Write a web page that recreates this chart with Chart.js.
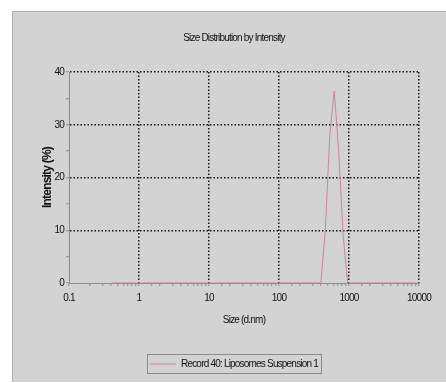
<!DOCTYPE html>
<html>
<head>
<meta charset="utf-8">
<script src="https://cdn.jsdelivr.net/npm/chart.js@4.4.0/dist/chart.umd.min.js"></script>
<style>
  html, body { margin: 0; padding: 0; background: #fff; }
  #wrap { width: 446px; height: 383px; }
</style>
</head>
<body>
<div id="wrap"><canvas id="myChart" width="446" height="383"></canvas></div>
<script>
// size bins (d.nm) and intensity (%)
const sizes = [0.4, 0.4632, 0.5365, 0.6213, 0.7195, 0.8332, 0.9649, 1.117, 1.294, 1.499,
  1.736, 2.010, 2.328, 2.696, 3.122, 3.615, 4.187, 4.849, 5.615, 6.503,
  7.531, 8.721, 10.10, 11.70, 13.54, 15.69, 18.17, 21.04, 24.36, 28.21,
  32.67, 37.84, 43.82, 50.75, 58.77, 68.06, 78.82, 91.28, 105.7, 122.4,
  141.8, 164.2, 190.1, 220.2, 255.0, 295.3, 342.0, 396.1, 458.7, 531.2,
  615.1, 712.4, 825.0, 955.4, 1106, 1281, 1484, 1718, 1990, 2305,
  2669, 3091, 3580, 4145, 4801, 5560, 6439, 7456, 8635, 10000];
const intensity = [0, 0, 0, 0, 0, 0, 0, 0, 0, 0,
  0, 0, 0, 0, 0, 0, 0, 0, 0, 0,
  0, 0, 0, 0, 0, 0, 0, 0, 0, 0,
  0, 0, 0, 0, 0, 0, 0, 0, 0, 0,
  0, 0, 0, 0, 0, 0, 0, 0, 10, 28,
  36.4, 25, 9, 0, 0, 0, 0, 0, 0, 0,
  0, 0, 0, 0, 0, 0, 0, 0, 0, 0];
const xTickLabels = [0.1, 1, 10, 100, 1000, 10000];
const yTickLabels = [0, 10, 20, 30, 40];
const seriesName = 'Record 40: Liposomes Suspension 1';

const font = { family: "'Liberation Sans', Arial, sans-serif", size: 10, weight: 'normal' };
const TEXT = '#111';
const LINE = '#c9869f';

// the original uses a narrow face; squeeze the letters a bit instead
const squeeze = c => { if ('letterSpacing' in c) c.letterSpacing = '-0.8px'; };

const panel = {
  id: 'panel',
  beforeUpdate(chart) { squeeze(chart.ctx); },
  beforeDraw(chart) {
    const c = chart.ctx;
    squeeze(c);
    c.save();
    c.fillStyle = '#ffffff';
    c.fillRect(0, 0, chart.width, chart.height);
    c.fillStyle = '#d3d3d3';
    c.fillRect(12, 11, chart.width - 12, chart.height - 12);
    c.strokeStyle = '#b0b0b0';
    c.lineWidth = 1;
    c.beginPath();
    c.moveTo(12.5, chart.height - 1);
    c.lineTo(12.5, 11.5);
    c.lineTo(chart.width, 11.5);
    c.stroke();
    c.restore();
  },
  afterDraw(chart) {
    const hb = chart.legend.legendHitBoxes[0];
    if (!hb) return;
    const c = chart.ctx;
    c.save();
    c.strokeStyle = '#8a8a8a';
    c.lineWidth = 1;
    c.strokeRect(Math.round(hb.left) - 2.5, 354.5, Math.round(hb.width) + 6, 19);
    c.restore();
  }
};

const ctx = document.getElementById('myChart').getContext('2d');
const myChart = new Chart(ctx, {
  type: 'line',
  data: {
    datasets: [{
      label: seriesName,
      data: sizes.map((s, i) => ({x: s, y: intensity[i]})),
      borderColor: LINE,
      backgroundColor: LINE,
      borderWidth: 1,
      pointRadius: 0,
      tension: 0
    }]
  },
  options: {
    responsive: false,
    animation: false,
    layout: { padding: { left: 22, right: 0, top: 0, bottom: 4 } },
    scales: {
      x: {
        type: 'logarithmic',
        min: 0.1,
        max: 10000,
        afterFit(scale) { scale.height = 68; },
        grid: {
          color: c => (c.tick && xTickLabels.includes(c.tick.value) && c.tick.value !== 0.1) ? '#111' : 'rgba(0,0,0,0)',
          lineWidth: 1.5,
          tickColor: '#8c8c8c',
          tickLength: 3,
          tickWidth: 1
        },
        border: { display: true, color: '#8c8c8c', width: 1, dash: [1.5, 2] },
        ticks: {
          autoSkip: false,
          maxRotation: 0,
          padding: 6,
          color: TEXT,
          font: font,
          callback: v => xTickLabels.includes(v) ? String(v) : ''
        },
        title: {
          display: true,
          text: 'Size (d.nm)',
          color: TEXT,
          font: font,
          padding: { top: 0, bottom: 25 }
        }
      },
      y: {
        min: 0,
        max: 40,
        afterFit(scale) { scale.width = 47; },
        grid: {
          color: c => (c.tick && yTickLabels.includes(c.tick.value) && c.tick.value !== 0) ? '#111' : 'rgba(0,0,0,0)',
          lineWidth: 1.5,
          tickColor: '#8c8c8c',
          tickLength: 3,
          tickWidth: 1
        },
        border: { display: true, color: '#8c8c8c', width: 1, dash: [1.5, 2] },
        ticks: {
          stepSize: 5,
          padding: 2,
          color: TEXT,
          font: font,
          callback: v => yTickLabels.includes(v) ? String(v) : ''
        },
        title: {
          display: true,
          text: 'Intensity (%)',
          color: TEXT,
          font: { family: font.family, size: 12, weight: 'bold' },
          padding: { top: 18, bottom: 0 }
        }
      },
      pad: {
        type: 'linear',
        position: 'right',
        display: true,
        afterFit(scale) { scale.width = 27; },
        grid: { display: false },
        border: { display: false },
        ticks: { display: false }
      }
    },
    plugins: {
      title: {
        display: true,
        text: 'Size Distribution by Intensity',
        color: TEXT,
        font: font,
        padding: { top: 32, bottom: 28 }
      },
      legend: {
        display: true,
        position: 'bottom',
        labels: {
          usePointStyle: true,
          pointStyle: 'line',
          pointStyleWidth: 26,
          boxHeight: 11,
          padding: 8,
          color: TEXT,
          font: font
        }
      },
      tooltip: { enabled: false }
    }
  },
  plugins: [panel]
});
</script>
</body>
</html>
